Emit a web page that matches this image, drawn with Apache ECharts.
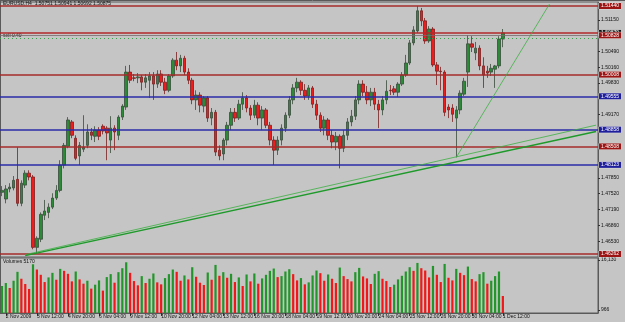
<!DOCTYPE html>
<html><head><meta charset="utf-8">
<script src="https://cdn.jsdelivr.net/npm/echarts@6/dist/echarts.min.js"></script>
<style>html,body{margin:0;padding:0;background:#c5c5c5}#c{width:625px;height:322px}</style>
</head><body><div id="c"></div>
<script>
// ---- data (EURUSD H4, 2 Nov 2009 00:00 onwards) ----
const opens = [
1.4755,1.4741,1.4762,1.4764,1.4782,1.4732,1.4770,1.4795,1.4787,1.4640,
1.4657,1.4707,1.4713,1.4724,1.4743,1.4759,1.4812,1.4851,1.4902,1.4868,
1.4831,1.4845,1.4853,1.4881,1.4872,1.4885,1.4893,1.4889,1.4864,1.4889,
1.4874,1.4912,1.4933,1.5006,1.4994,1.4994,1.4996,1.4985,1.4989,1.4998,
1.4981,1.5002,1.4985,1.4968,1.4998,1.5031,1.5019,1.5035,1.5006,1.4989,
1.4948,1.4958,1.4935,1.4952,1.4910,1.4922,1.4843,1.4835,1.4864,1.4895,
1.4922,1.4910,1.4939,1.4952,1.4931,1.4916,1.4937,1.4910,1.4927,1.4895,
1.4864,1.4843,1.4864,1.4889,1.4916,1.4948,1.4973,1.4985,1.4968,1.4956,
1.4973,1.4939,1.4916,1.4889,1.4906,1.4874,1.4860,1.4872,1.4847,1.4874,
1.4902,1.4914,1.4948,1.4981,1.4964,1.4948,1.4964,1.4939,1.4927,1.4948,
1.4968,1.4971,1.4964,1.4981,1.5000,1.5025,1.5067,1.5092,1.5134,1.5113,
1.5071,1.5096,1.5021,1.5008,1.5006,1.4933,1.4931,1.4910,1.4927,1.4960,
1.5006,1.5065,1.5046,1.5056,1.5019,1.5008,1.5006,1.5012,1.5019,1.5075];
const closes = [
1.4759,1.4762,1.4766,1.4780,1.4732,1.4774,1.4795,1.4787,1.4640,1.4659,
1.4709,1.4716,1.4724,1.4743,1.4759,1.4812,1.4853,1.4906,1.4874,1.4826,
1.4853,1.4849,1.4881,1.4874,1.4885,1.4872,1.4883,1.4879,1.4889,1.4881,
1.4912,1.4935,1.5006,1.4989,1.4993,1.4996,1.4985,1.4994,1.4998,1.4981,
1.5002,1.4985,1.4968,1.4998,1.5031,1.5019,1.5035,1.5006,1.4989,1.4948,
1.4958,1.4937,1.4952,1.4910,1.4922,1.4839,1.4831,1.4864,1.4895,1.4922,
1.4910,1.4939,1.4952,1.4931,1.4916,1.4937,1.4910,1.4927,1.4895,1.4864,
1.4843,1.4864,1.4889,1.4916,1.4948,1.4973,1.4985,1.4968,1.4956,1.4973,
1.4939,1.4916,1.4889,1.4906,1.4874,1.4860,1.4872,1.4847,1.4874,1.4902,
1.4914,1.4948,1.4981,1.4964,1.4948,1.4964,1.4939,1.4927,1.4948,1.4966,
1.4967,1.4964,1.4981,1.5000,1.5025,1.5067,1.5094,1.5134,1.5113,1.5071,
1.5096,1.5021,1.5008,1.5007,1.4922,1.4927,1.4918,1.4927,1.4962,1.4987,
1.5065,1.5058,1.5056,1.5019,1.5000,1.5004,1.5014,1.5019,1.5075,1.50879];
const lows = [
1.4747,1.4732,1.4755,1.4759,1.4726,1.4726,1.4764,1.4780,1.4636,1.4628,
1.4651,1.4697,1.4701,1.4720,1.4739,1.4755,1.4805,1.4847,1.4868,1.4822,
1.4812,1.4839,1.4847,1.4864,1.4860,1.4864,1.4876,1.4822,1.4837,1.4843,
1.4864,1.4906,1.4927,1.4983,1.4987,1.4983,1.4968,1.4973,1.4952,1.4948,
1.4973,1.4977,1.4960,1.4964,1.4994,1.5010,1.5006,1.5000,1.4981,1.4939,
1.4927,1.4922,1.4922,1.4902,1.4895,1.4831,1.4822,1.4822,1.4853,1.4885,
1.4902,1.4906,1.4927,1.4922,1.4906,1.4910,1.4895,1.4885,1.4889,1.4853,
1.4812,1.4833,1.4853,1.4881,1.4910,1.4939,1.4964,1.4958,1.4948,1.4948,
1.4931,1.4906,1.4881,1.4874,1.4864,1.4847,1.4843,1.4805,1.4839,1.4864,
1.4893,1.4906,1.4939,1.4956,1.4939,1.4935,1.4927,1.4889,1.4916,1.4939,
1.4958,1.4958,1.4954,1.4977,1.4996,1.5021,1.5062,1.5088,1.5102,1.5065,
1.5067,1.5017,1.4979,1.4968,1.4914,1.4910,1.4902,1.4828,1.4918,1.4956,
1.4975,1.5048,1.5031,1.5010,1.4973,1.4994,1.4998,1.4973,1.5014,1.5058];
const highs = [
1.4768,1.4770,1.4774,1.4789,1.4849,1.4780,1.4801,1.4801,1.4791,1.4663,
1.4713,1.4739,1.4732,1.4753,1.4770,1.4822,1.4858,1.4912,1.4906,1.4874,
1.4860,1.4916,1.4897,1.4889,1.4893,1.4891,1.4897,1.4893,1.4914,1.4895,
1.4916,1.4939,1.5019,1.5021,1.5002,1.5004,1.5000,1.5002,1.5006,1.5006,
1.5010,1.5010,1.4994,1.5002,1.5035,1.5048,1.5042,1.5040,1.5014,1.4994,
1.4968,1.4964,1.4956,1.4956,1.4931,1.4927,1.4853,1.4868,1.4902,1.4931,
1.4931,1.4948,1.4964,1.4958,1.4937,1.4948,1.4943,1.4935,1.4931,1.4902,
1.4872,1.4872,1.4897,1.4922,1.4956,1.4981,1.4994,1.4989,1.4981,1.4979,
1.4977,1.4948,1.4922,1.4914,1.4910,1.4885,1.4881,1.4876,1.4885,1.4910,
1.4927,1.4956,1.4989,1.4989,1.4977,1.4973,1.4973,1.4948,1.4956,1.4989,
1.4979,1.4977,1.4985,1.5006,1.5042,1.5073,1.5102,1.5144,1.5140,1.5119,
1.5102,1.5100,1.5027,1.5017,1.5010,1.4939,1.4939,1.4935,1.4968,1.4994,
1.5083,1.5081,1.5069,1.5062,1.5037,1.5019,1.5023,1.5021,1.5081,1.5096];
const volumes = [
8200,9100,7600,9800,12500,10400,8800,7300,14800,13200,
11600,9400,10800,12200,10100,13400,12800,11900,9600,12600,
10200,8900,9800,7400,8600,9900,6800,10900,11800,9200,
12400,13600,15400,12200,9700,8400,11200,9100,10400,12000,
9300,8700,10600,11800,13200,12500,9800,11400,10200,13900,
11000,9200,8500,12300,10100,14600,11300,12400,10700,11900,
9400,10800,8200,11700,9600,12000,8900,10500,11600,12800,
13500,10900,11200,12600,13300,11800,9900,10600,8700,9300,
11400,12900,12100,9800,11700,10400,9100,13800,11200,10300,
9600,12400,13700,11100,10500,8800,11900,12700,10400,9700,
7900,8600,10200,11300,12600,13900,12800,15200,13600,12900,
10800,14300,11600,9400,14900,10700,9900,13400,12200,11500,
14100,10300,9600,11800,12400,8900,9800,11200,12600,5170];

// horizontal levels
const levelPrices = [1.51440, 1.50879, 1.50828, 1.50008, 1.49555, 1.48858, 1.48508, 1.48123, 1.46262];
const levelKinds  = ['red','bid','grey','red','blue','blue','red','blue','red'];
const orderPrice = 1.50765;
// trend lines: [startIndex, startPrice, endIndex, endPrice]
const trendThin  = [6, 1.46248, 153, 1.48953];
const trendThick = [6, 1.46227, 153, 1.48819];
const trendSteep = [117, 1.48280, 141, 1.51480];

const priceTicks = [1.46530,1.46860,1.47190,1.47520,1.47850,1.49170,1.49830,1.50160,1.50490,1.51150];
const volumeTicks = [966, 16130];
const titleText = 'EURUSD,H4  1.50751 1.50941 1.50692 1.50875';
const volumeTitle = 'Volumes 5170';
const orderText = 'sell 0.40';

// categories: H4 bars, weekends skipped; 130 real bars + empty shift area
const MONTHS = ['Jan','Feb','Mar','Apr','May','Jun','Jul','Aug','Sep','Oct','Nov','Dec'];
const categories = [];
const N_TOTAL = 154;
let t = Date.UTC(2009, 10, 2, 0);
while (categories.length < N_TOTAL) {
  const d = new Date(t);
  const wd = d.getUTCDay();
  if (wd !== 0 && wd !== 6) {
    const hh = String(d.getUTCHours()).padStart(2,'0');
    categories.push(d.getUTCDate() + ' ' + MONTHS[d.getUTCMonth()] + ' ' + hh + ':00');
  }
  t += 4 * 3600 * 1000;
}
const showTick = (i) => i === 1 || (i >= 9 && i <= 129 && (i - 9) % 8 === 0);

const candleData = opens.map((o, i) => [o, closes[i], lows[i], highs[i]]);

const FONT = 'Liberation Sans';
const kindStyle = {
  red:  {line: '#a52a2a', bg: '#9c1414', w: 1.6},
  bid:  {line: '#b22a2a', bg: '#111111', w: 1.6},
  grey: {line: '#7a6a6a', bg: '#9c1414', w: 0.8},
  blue: {line: '#2a2aa8', bg: '#1f1f9e', w: 1.6}
};
const levelLines = levelPrices.map((p, i) => {
  const s = kindStyle[levelKinds[i]];
  return {
    yAxis: p,
    lineStyle: {color: s.line, width: s.w, type: 'solid'},
    label: {show: true, position: 'end', distance: 1, formatter: p.toFixed(5),
      color: '#ffffff', backgroundColor: s.bg, fontSize: 5, fontFamily: FONT,
      padding: [1, 2, 0, 2], borderColor: '#ddd', borderWidth: 0.5}
  };
});
const tl = (a, color, width) => [
  {coord: [a[0], a[1]], lineStyle: {color: color, width: width, type: 'solid'}},
  {coord: [a[2], a[3]]}
];
const markData = levelLines.concat([
  {yAxis: orderPrice, lineStyle: {color: '#3aa04a', width: 1, type: [1, 3]}, label: {show: false}},
  tl(trendThin, '#3cb043', 0.8),
  tl(trendThick, '#1e9a2a', 1.4),
  tl(trendSteep, '#3cb043', 0.8)
]);

const chart = echarts.init(document.getElementById('c'), null, {renderer: 'canvas'});
chart.setOption({
  animation: false,
  backgroundColor: '#c5c5c5',
  textStyle: {fontFamily: FONT},
  grid: [
    {left: -7.4, width: 605.4, top: 2, height: 255, show: true, borderColor: '#5a5a5a', borderWidth: 1, backgroundColor: 'transparent'},
    {left: -7.4, width: 605.4, top: 258, height: 55, show: true, borderColor: '#5a5a5a', borderWidth: 1, backgroundColor: 'transparent'}
  ],
  xAxis: [
    {type: 'category', gridIndex: 0, data: categories, boundaryGap: true,
     axisLine: {show: false}, axisTick: {show: false}, axisLabel: {show: false}, splitLine: {show: false}},
    {type: 'category', gridIndex: 1, data: categories, boundaryGap: true,
     axisLine: {show: true, lineStyle: {color: '#5a5a5a'}},
     axisTick: {show: true, interval: (i) => showTick(i), alignWithLabel: true, length: 3, lineStyle: {color: '#333'}},
     axisLabel: {show: true, interval: (i) => showTick(i), fontSize: 5, fontFamily: FONT, color: '#111',
       align: 'left', margin: 1, padding: 0,
       formatter: (v, i) => i === 1 ? '2 Nov 2009' : v},
     splitLine: {show: false}}
  ],
  yAxis: [
    {type: 'value', gridIndex: 0, position: 'right', min: 1.46199, max: 1.51524, scale: true,
     axisLine: {show: true, lineStyle: {color: '#5a5a5a'}},
     axisTick: {show: true, length: 2, customValues: priceTicks, lineStyle: {color: '#333'}},
     axisLabel: {show: true, customValues: priceTicks, fontSize: 5, fontFamily: FONT, color: '#111', margin: 3,
       formatter: (v) => v.toFixed(5)},
     splitLine: {show: false}},
    {type: 'value', gridIndex: 1, position: 'right', min: 0, max: 16700,
     axisLine: {show: true, lineStyle: {color: '#5a5a5a'}},
     axisTick: {show: true, length: 2, customValues: volumeTicks, lineStyle: {color: '#333'}},
     axisLabel: {show: true, customValues: volumeTicks, fontSize: 5, fontFamily: FONT, color: '#111', margin: 3},
     splitLine: {show: false}}
  ],
  series: [
    {type: 'candlestick', xAxisIndex: 0, yAxisIndex: 0, data: candleData, barWidth: 3,
     itemStyle: {color: '#2a8a35', color0: '#f01c1c', borderColor: '#3b4d3d', borderColor0: '#7a2020', borderWidth: 0.8},
     markLine: {silent: true, symbol: ['none', 'none'], animation: false, precision: 5, data: markData}},
    {type: 'bar', xAxisIndex: 1, yAxisIndex: 1, data: volumes, barWidth: 2.2,
     itemStyle: {color: (p) => (p.dataIndex === 0 || volumes[p.dataIndex] > volumes[p.dataIndex - 1]) ? '#22962a' : '#f01818'}}
  ],
  graphic: [
    {type: 'text', left: 3, top: 1, style: {text: titleText, fontSize: 5, fontFamily: FONT, fill: '#111'}},
    {type: 'text', left: 3, top: 33, style: {text: orderText, fontSize: 5, fontFamily: FONT, fill: '#111'}},
    {type: 'text', left: 3, top: 259, style: {text: volumeTitle, fontSize: 5, fontFamily: FONT, fill: '#111'}},
    {type: 'line', shape: {x1: 0.5, y1: 0, x2: 0.5, y2: 313}, style: {stroke: '#5a5a5a', lineWidth: 1}},
    {type: 'line', shape: {x1: 0, y1: 0.5, x2: 625, y2: 0.5}, style: {stroke: '#5a5a5a', lineWidth: 1}}
  ]
});
</script>
</body></html>
